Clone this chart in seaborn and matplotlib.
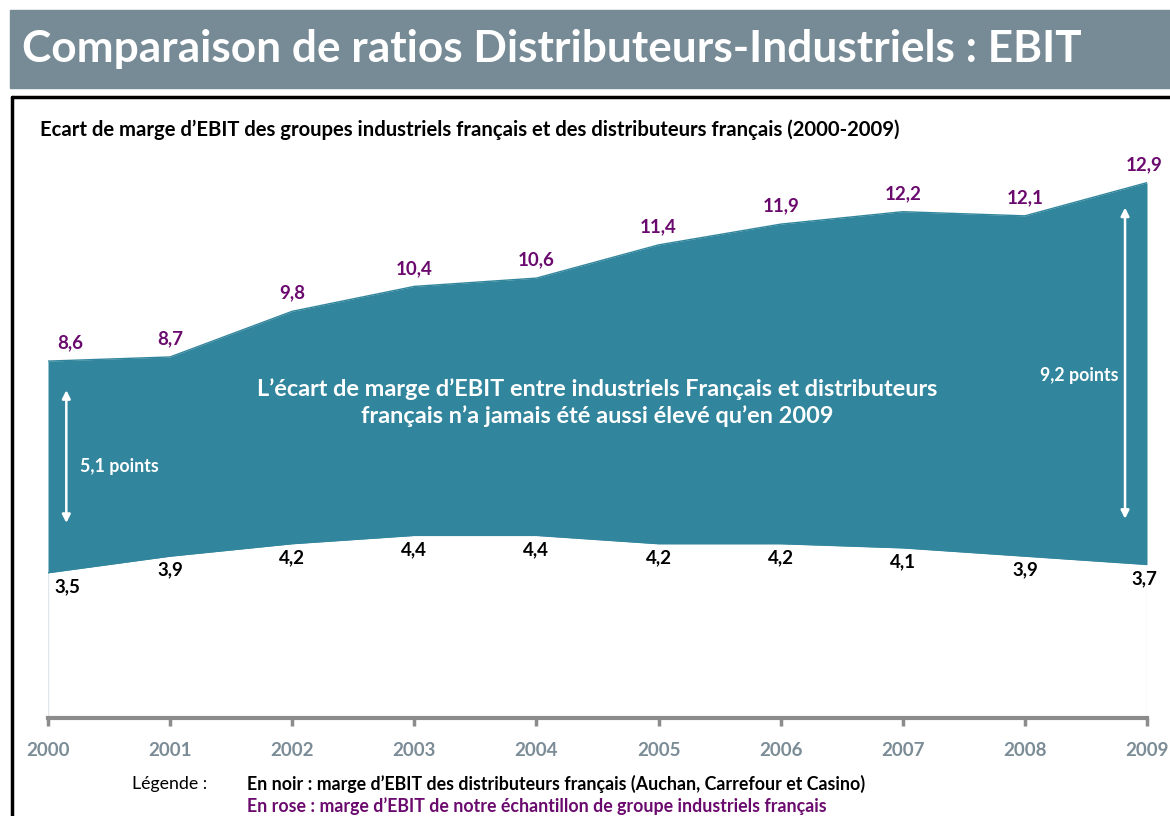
import numpy as np
import pandas as pd
import matplotlib
matplotlib.use('Agg')
import matplotlib.pyplot as plt
import seaborn as sns

years = [2000, 2001, 2002, 2003, 2004, 2005, 2006, 2007, 2008, 2009]
industriels = [8.6, 8.7, 9.8, 10.4, 10.6, 11.4, 11.9, 12.2, 12.1, 12.9]
distributeurs = [3.5, 3.9, 4.2, 4.4, 4.4, 4.2, 4.2, 4.1, 3.9, 3.7]

df = pd.DataFrame({'annee': years, 'indus': industriels, 'distrib': distributeurs})

sns.set_theme(style='white')
plt.rcParams['font.family'] = ['Lato', 'DejaVu Sans']

teal = '#31859c'
violet = '#6b0a6e'
gris = '#7b8c96'

W, H = 1170, 816
fig = plt.figure(figsize=(W / 100, H / 100), dpi=100)

# bandeau titre
fig.patches.append(plt.Rectangle((10 / W, 1 - 88 / H), 1160 / W, 78 / H,
                                 transform=fig.transFigure, color='#778b96', zorder=0))
fig.text(22 / W, 1 - 49 / H, 'Comparaison de ratios Distributeurs-Industriels : EBIT',
         color='white', fontsize=31.8, fontweight='bold', va='center', ha='left')

# cadre noir
fig.add_artist(plt.Line2D([11.5 / W, 11.5 / W], [0, 1 - 97 / H], color='black', lw=2.5,
                          transform=fig.transFigure))
fig.add_artist(plt.Line2D([11.5 / W, 1], [1 - 97 / H, 1 - 97 / H], color='black', lw=2.5,
                          transform=fig.transFigure))

fig.text(40 / W, 1 - 130 / H,
         'Ecart de marge d\u2019EBIT des groupes industriels français et des distributeurs français (2000-2009)',
         color='black', fontsize=14.6, fontweight='bold', va='center', ha='left')

ax = fig.add_axes([48 / W, 1 - 718 / H, (1147 - 48) / W, (718 - 137) / H])
ax.set_xlim(2000, 2009)
ax.set_ylim(0, 14)

ax.fill_between(df['annee'], df['distrib'], df['indus'], color=teal, lw=0, zorder=2)
sns.lineplot(data=df, x='annee', y='indus', ax=ax, color=teal, lw=1, zorder=3)
sns.lineplot(data=df, x='annee', y='distrib', ax=ax, color=teal, lw=1, zorder=3)
ax.vlines([years[0], years[-1]], 0, [distributeurs[0], distributeurs[-1]],
          color='#dfe6ec', lw=1, zorder=1)

for i, (x, v) in enumerate(zip(years, industriels)):
    dx = 16 if i == 0 else (-2 if i == len(years) - 1 else 0)
    ax.annotate(f'{v:.1f}'.replace('.', ','), (x, v), xytext=(dx, 13),
                textcoords='offset points', ha='center', va='center',
                color=violet, fontsize=13.5, fontweight='bold')
for i, (x, v) in enumerate(zip(years, distributeurs)):
    dx = 14 if i == 0 else (-2 if i == len(years) - 1 else 0)
    ax.annotate(f'{v:.1f}'.replace('.', ','), (x, v), xytext=(dx, -10),
                textcoords='offset points', ha='center', va='center',
                color='black', fontsize=13.5, fontweight='bold')

# flèches d'écart
arrow = dict(arrowstyle='<|-|>', color='white', lw=1.8, mutation_scale=12, shrinkA=0, shrinkB=0)
ax.annotate('', xy=(2000.15, 7.9), xytext=(2000.15, 4.7), arrowprops=arrow, zorder=4)
ax.annotate('', xy=(2008.82, 12.3), xytext=(2008.82, 4.8), arrowprops=arrow, zorder=4)
ax.text(2000.26, 6.05, '5,1 points', color='white', fontsize=12.8, fontweight='bold',
        va='center', ha='left', zorder=4)
ax.text(2008.77, 8.25, '9,2 points', color='white', fontsize=12.8, fontweight='bold',
        va='center', ha='right', zorder=4)
ax.text(2004.5, 7.6,
        'L\u2019écart de marge d\u2019EBIT entre industriels Français et distributeurs\n'
        'français n\u2019a jamais été aussi élevé qu\u2019en 2009',
        color='white', fontsize=16.9, fontweight='bold', ha='center', va='center',
        linespacing=1.3, zorder=4)

# axe
for s in ['top', 'right', 'left']:
    ax.spines[s].set_visible(False)
ax.spines['bottom'].set_color('#8c8c8c')
ax.spines['bottom'].set_linewidth(3)
ax.set_yticks([])
ax.set_xticks(years)
ax.set_xticklabels([str(y) for y in years], color=gris, fontsize=13.5, fontweight='bold')
ax.tick_params(axis='x', bottom=True, length=6, width=2.5, color='#8c8c8c', pad=11)
ax.set_xlabel('')
ax.set_ylabel('')
ax.patch.set_alpha(0)

# légende
fig.text(132 / W, 1 - 784 / H, 'Légende :', color='black', fontsize=12.8, va='center', ha='left')
fig.text(247 / W, 1 - 784 / H,
         'En noir : marge d\u2019EBIT des distributeurs français (Auchan, Carrefour et Casino)',
         color='black', fontsize=12.8, fontweight='bold', va='center', ha='left')
fig.text(247 / W, 1 - 806 / H,
         'En rose : marge d\u2019EBIT de notre échantillon de groupe industriels français',
         color=violet, fontsize=12.8, fontweight='bold', va='center', ha='left')

fig.savefig('out.png', dpi=100)
